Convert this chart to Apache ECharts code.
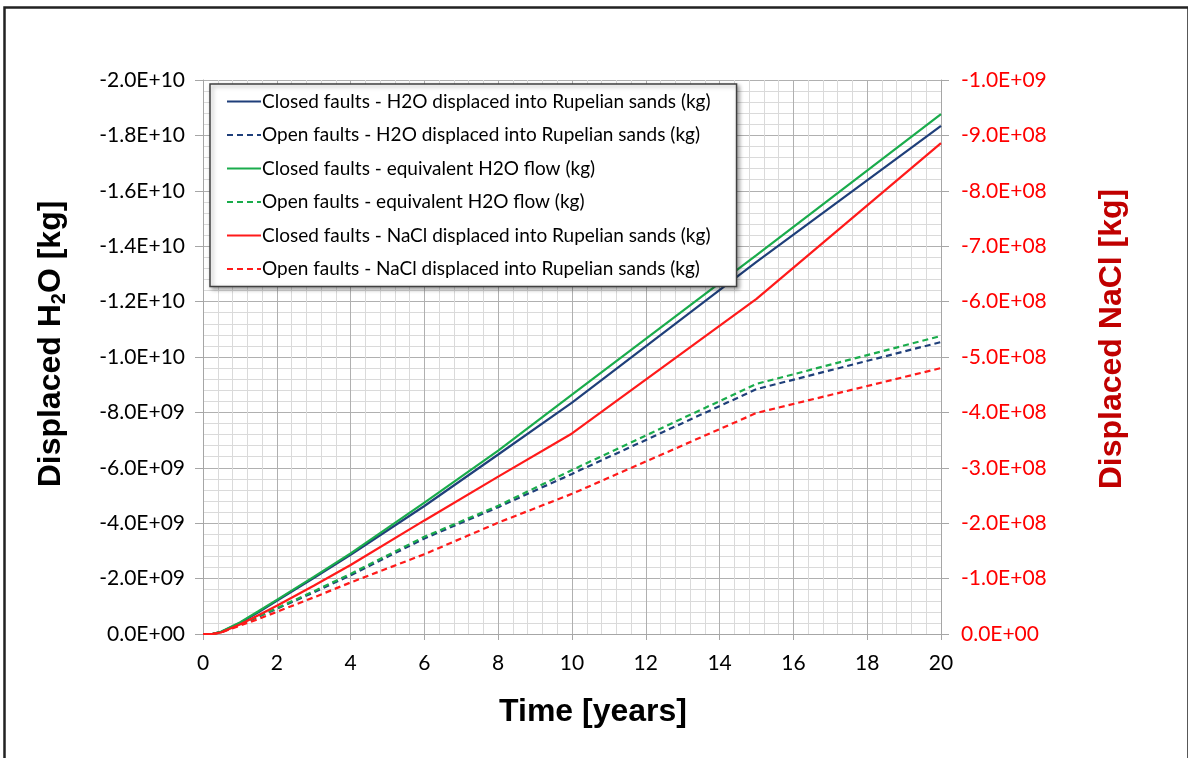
<!DOCTYPE html>
<html><head><meta charset="utf-8">
<script src="https://cdn.jsdelivr.net/npm/echarts@6/dist/echarts.min.js"></script>
<style>html,body{margin:0;padding:0;background:#fff}#c{width:1188px;height:758px}</style>
</head><body><div id="c"></div>
<script>
var years = [0, 0.25, 0.5, 1, 1.5, 2, 3, 4, 6, 8, 10, 15, 20];
var closedH2O = [0, 0, -0.08e9, -0.40e9, -0.78e9, -1.20e9, -2.02e9, -2.86e9, -4.62e9, -6.48e9, -8.35e9, -13.43e9, -18.34e9];
var openH2O = [0, 0, -0.07e9, -0.34e9, -0.62e9, -0.91e9, -1.50e9, -2.12e9, -3.45e9, -4.58e9, -5.78e9, -8.84e9, -10.54e9];
var closedEq = [0, 0, -0.09e9, -0.42e9, -0.82e9, -1.23e9, -2.06e9, -2.91e9, -4.74e9, -6.62e9, -8.64e9, -13.68e9, -18.77e9];
var openEq = [0, 0, -0.07e9, -0.35e9, -0.64e9, -0.93e9, -1.54e9, -2.17e9, -3.51e9, -4.63e9, -5.92e9, -9.03e9, -10.76e9];
var closedNaCl = [0, 0, -0.3e7, -1.7e7, -3.4e7, -5.1e7, -8.7e7, -12.45e7, -20.5e7, -28.4e7, -36.2e7, -60.5e7, -88.6e7];
var openNaCl = [0, 0, -0.3e7, -1.5e7, -2.7e7, -4.0e7, -6.6e7, -9.3e7, -14.4e7, -20.1e7, -25.3e7, -39.9e7, -48.0e7];
var seriesNames = [
  'Closed faults - H2O displaced into Rupelian sands (kg)',
  'Open faults - H2O displaced into Rupelian sands (kg)',
  'Closed faults - equivalent H2O flow (kg)',
  'Open faults - equivalent H2O flow (kg)',
  'Closed faults - NaCl displaced into Rupelian sands (kg)',
  'Open faults - NaCl displaced into Rupelian sands (kg)'
];

function sci(v) {
  var s = Number(v).toExponential(1).toUpperCase();
  var m = s.split('E');
  var sign = m[1].charAt(0);
  var e = m[1].slice(1);
  if (e.length < 2) e = '0' + e;
  return m[0] + 'E' + sign + e;
}
function pairs(arr) { return years.map(function (t, i) { return [t, arr[i]]; }); }

var font = 'Lato, "Open Sans", sans-serif';
var bold = '"Liberation Sans", Arial, sans-serif';
var navy = '#1f3f7a', green = '#1aac4c', red = '#ff1a1a';
function mk(name, data, color, dashed, yIdx) {
  return {
    name: name, type: 'line', yAxisIndex: yIdx, data: pairs(data),
    symbol: 'none', showSymbol: false, smooth: false, animation: false,
    lineStyle: { color: color, width: 2.2, type: dashed ? [6, 4] : 'solid' },
    itemStyle: { color: color }
  };
}

var chart = echarts.init(document.getElementById('c'));
chart.setOption({
  backgroundColor: '#fff',
  animation: false,
  graphic: [{
    type: 'rect', left: 2, top: 5, shape: { width: 1184, height: 760 },
    style: { fill: 'none', stroke: '#222', lineWidth: 2.5 }, z: 100, silent: true
  }],
  grid: { left: 203, right: 247, top: 80, bottom: 124, containLabel: false },
  legend: {
    orient: 'vertical', left: 210, top: 84,
    itemWidth: 34, itemHeight: 14, itemGap: 14.5,
    padding: [8, 26, 8, 16],
    backgroundColor: '#fff', borderColor: '#404040', borderWidth: 1.5,
    shadowColor: 'rgba(0,0,0,0.35)', shadowBlur: 4, shadowOffsetX: 2, shadowOffsetY: 2,
    itemStyle: { opacity: 0 },
    textStyle: { fontFamily: font, fontSize: 19, color: '#000', padding: [0, 0, 0, -4] },
    data: seriesNames
  },
  xAxis: {
    type: 'value', min: 0, max: 20, interval: 2,
    name: 'Time [years]', nameLocation: 'middle', nameGap: 62,
    nameTextStyle: { fontFamily: bold, fontWeight: 'bold', fontSize: 32, color: '#000', padding: [0, 0, 0, 42] },
    axisLine: { show: true, lineStyle: { color: '#a6a6a6', width: 1 } },
    axisTick: { show: true, length: 6, lineStyle: { color: '#a6a6a6' } },
    axisLabel: { fontFamily: font, fontSize: 21, color: '#000', margin: 19 },
    splitLine: { show: true, lineStyle: { color: '#b0b0b0', width: 1 } },
    minorTick: { show: false, splitNumber: 5 },
    minorSplitLine: { show: true, lineStyle: { color: '#dadada', width: 1 } }
  },
  yAxis: [{
    type: 'value', min: -2e10, max: 0, interval: 2e9, inverse: true, position: 'left',
    name: 'Displaced H{sub|2}O [kg]', nameLocation: 'middle', nameGap: 134, nameRotate: 90,
    nameTextStyle: {
      fontFamily: bold, fontWeight: 'bold', fontSize: 32, color: '#000', padding: [0, 0, 0, 26],
      rich: { sub: { fontFamily: bold, fontWeight: 'bold', fontSize: 20, color: '#000', verticalAlign: 'bottom', padding: [16, 0, 0, 0] } }
    },
    axisLine: { show: true, lineStyle: { color: '#a6a6a6', width: 1 } },
    axisTick: { show: true, length: 8, lineStyle: { color: '#a6a6a6' } },
    axisLabel: { fontFamily: font, fontSize: 21, color: '#000', margin: 18, formatter: sci },
    splitLine: { show: true, lineStyle: { color: '#b0b0b0', width: 1 } },
    minorTick: { show: false, splitNumber: 5 },
    minorSplitLine: { show: true, lineStyle: { color: '#dadada', width: 1 } }
  }, {
    type: 'value', min: -1e9, max: 0, interval: 1e8, inverse: true, position: 'right',
    name: 'Displaced NaCl [kg]', nameLocation: 'middle', nameGap: 155, nameRotate: 90,
    nameTextStyle: { fontFamily: bold, fontWeight: 'bold', fontSize: 32, color: '#c00000', padding: [0, 0, 0, 36] },
    axisLine: { show: true, lineStyle: { color: '#a6a6a6', width: 1 } },
    axisTick: { show: true, length: 8, lineStyle: { color: '#a6a6a6' } },
    axisLabel: { fontFamily: font, fontSize: 21, color: '#ff0000', margin: 20, formatter: sci },
    splitLine: { show: false }
  }],
  series: [
    mk(seriesNames[0], closedH2O, navy, false, 0),
    mk(seriesNames[1], openH2O, navy, true, 0),
    mk(seriesNames[2], closedEq, green, false, 0),
    mk(seriesNames[3], openEq, green, true, 0),
    mk(seriesNames[4], closedNaCl, red, false, 1),
    mk(seriesNames[5], openNaCl, red, true, 1)
  ]
});
</script></body></html>
